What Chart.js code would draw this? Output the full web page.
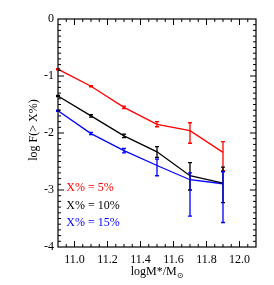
<!DOCTYPE html>
<html><head><meta charset="utf-8">
<script src="https://cdn.jsdelivr.net/npm/chart.js@4/dist/chart.umd.min.js"></script>
<style>html,body{margin:0;padding:0;background:#fff}#c{display:block}</style>
</head><body>
<canvas id="c" width="274" height="285"></canvas>
<script>
const massBins = [10.9, 11.1, 11.3, 11.5, 11.7, 11.9];
const red5 = [-0.88, -1.18, -1.55, -1.85, -1.96, -2.34];
const red5Hi = [-0.87, -1.17, -1.53, -1.80, -1.82, -2.15];
const red5Lo = [-0.89, -1.19, -1.57, -1.89, -2.18, -2.66];
const black10 = [-1.35, -1.70, -2.05, -2.33, -2.75, -2.88];
const black10Hi = [-1.34, -1.68, -2.02, -2.24, -2.52, -2.60];
const black10Lo = [-1.36, -1.72, -2.08, -2.43, -3.00, -3.22];
const blue15 = [-1.61, -2.01, -2.31, -2.57, -2.82, -2.89];
const blue15Hi = [-1.60, -1.99, -2.27, -2.46, -2.70, -2.68];
const blue15Lo = [-1.62, -2.03, -2.35, -2.75, -3.46, -3.57];
const xTickLabels = [11.0, 11.2, 11.4, 11.6, 11.8, 12.0];
const yTickLabels = [0, -1, -2, -3, -4];
const legendLabels = ['X% = 5%', 'X% = 10%', 'X% = 15%'];
const seriesColors = ['#ff0000', '#000000', '#0000ff'];

const FONT = 'Liberation Serif';
const series = [
  {name: legendLabels[0], y: red5, hi: red5Hi, lo: red5Lo, color: seriesColors[0]},
  {name: legendLabels[1], y: black10, hi: black10Hi, lo: black10Lo, color: seriesColors[1]},
  {name: legendLabels[2], y: blue15, hi: blue15Hi, lo: blue15Lo, color: seriesColors[2]},
];

const xMinor = [];
for (let i = 0; i <= 24; i++) xMinor.push(10.9 + i * 0.05);
const yMinor = [];
for (let i = 0; i <= 40; i++) yMinor.push(-i * 0.1);

const decor = {
  id: 'decor',
  afterDatasetsDraw(chart) {
    const ctx = chart.ctx, xs = chart.scales.x, ys = chart.scales.y, a = chart.chartArea;
    ctx.save();
    // error bars
    chart.data.datasets.forEach((ds, di) => {
      const s = series[di];
      ctx.strokeStyle = s.color; ctx.lineWidth = 1.3;
      massBins.forEach((m, i) => {
        const px = xs.getPixelForValue(m);
        const pHi = ys.getPixelForValue(s.hi[i]);
        const pLo = ys.getPixelForValue(s.lo[i]);
        ctx.beginPath();
        ctx.moveTo(px, pHi); ctx.lineTo(px, pLo);
        ctx.moveTo(px - 2, pHi); ctx.lineTo(px + 2, pHi);
        ctx.moveTo(px - 2, pLo); ctx.lineTo(px + 2, pLo);
        ctx.stroke();
      });
    });
    // frame
    ctx.strokeStyle = '#000'; ctx.lineWidth = 1.2;
    ctx.strokeRect(a.left, a.top, a.right - a.left, a.bottom - a.top);
    // ticks
    ctx.lineWidth = 1;
    ctx.beginPath();
    xMinor.forEach(v => {
      const px = xs.getPixelForValue(v);
      if (px < a.left + 1 || px > a.right - 1) return;
      const major = xTickLabels.some(t => Math.abs(t - v) < 1e-6);
      const L = major ? 6 : 3;
      ctx.moveTo(px, a.bottom); ctx.lineTo(px, a.bottom - L);
      ctx.moveTo(px, a.top); ctx.lineTo(px, a.top + L);
    });
    yMinor.forEach(v => {
      const py = ys.getPixelForValue(v);
      if (py < a.top + 1 || py > a.bottom - 1) return;
      const major = yTickLabels.some(t => Math.abs(t - v) < 1e-6);
      const L = major ? 6 : 3;
      ctx.moveTo(a.left, py); ctx.lineTo(a.left + L, py);
      ctx.moveTo(a.right, py); ctx.lineTo(a.right - L, py);
    });
    ctx.stroke();
    // legend text
    ctx.font = '12px "' + FONT + '"';
    ctx.textBaseline = 'middle'; ctx.textAlign = 'left';
    const lx = xs.getPixelForValue(10.95);
    const ly = [-2.97, -3.27, -3.57];
    series.forEach((s, i) => {
      ctx.fillStyle = s.color;
      ctx.fillText(s.name, lx, ys.getPixelForValue(ly[i]));
    });
    // y title
    ctx.fillStyle = '#000';
    ctx.save();
    ctx.translate(34, (a.top + a.bottom) / 2 - 3);
    ctx.rotate(-Math.PI / 2);
    ctx.textAlign = 'center'; ctx.textBaseline = 'middle';
    ctx.font = '12px "' + FONT + '"';
    ctx.fillText('log F(> X%)', 0, 0);
    ctx.restore();
    // x title with sun symbol subscript
    ctx.font = '12px "' + FONT + '"';
    const main = 'logM*/M';
    const sub = '\u2299';
    const w1 = ctx.measureText(main).width;
    ctx.font = '8px "DejaVu Sans"';
    const w2 = ctx.measureText(sub).width;
    const cx = (a.left + a.right) / 2;
    const sx = cx - (w1 + w2) / 2;
    ctx.font = '12px "' + FONT + '"';
    ctx.textAlign = 'left'; ctx.textBaseline = 'alphabetic';
    ctx.fillText(main, sx, 275);
    ctx.font = '8px "DejaVu Sans"';
    ctx.fillText(sub, sx + w1, 278);
    ctx.restore();
  }
};

new Chart(document.getElementById('c'), {
  type: 'line',
  data: {
    datasets: series.map(s => ({
      label: s.name,
      data: massBins.map((m, i) => ({x: m, y: s.y[i]})),
      borderColor: s.color,
      borderWidth: 1.3,
      pointRadius: 0,
      fill: false,
      tension: 0
    }))
  },
  options: {
    responsive: false,
    animation: false,
    layout: {padding: {left: 0, right: 18, top: 19, bottom: 0}},
    plugins: {legend: {display: false}, tooltip: {enabled: false}},
    scales: {
      x: {
        type: 'linear', min: 10.9, max: 12.1,
        grid: {display: false, drawTicks: false},
        border: {display: false},
        afterBuildTicks: sc => { sc.ticks = xTickLabels.map(v => ({value: v})); },
        afterFit: sc => { sc.height = 38; },
        ticks: {
          font: {family: FONT, size: 12}, color: '#000', padding: 6,
          maxRotation: 0, autoSkip: false,
          callback: v => Number(v).toFixed(1)
        }
      },
      y: {
        type: 'linear', min: -4, max: 0,
        grid: {display: false, drawTicks: false},
        border: {display: false},
        afterBuildTicks: sc => { sc.ticks = yTickLabels.map(v => ({value: v})); },
        afterFit: sc => { sc.width = 58; },
        ticks: {
          font: {family: FONT, size: 12}, color: '#000', padding: 4,
          callback: v => String(v)
        }
      }
    }
  },
  plugins: [decor]
});
</script>
</body></html>
